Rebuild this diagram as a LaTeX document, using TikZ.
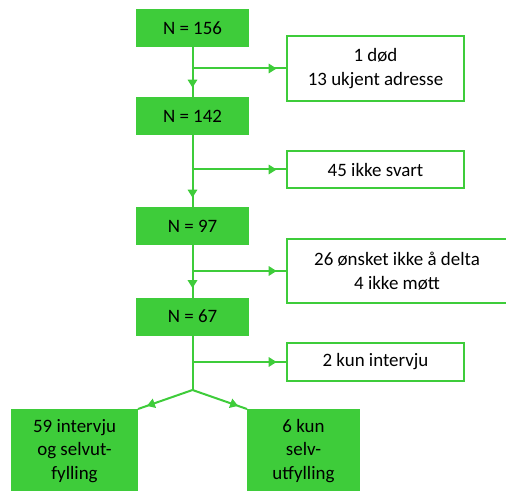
\documentclass[tikz,border=0pt]{standalone}
\usepackage{fontspec}
\setmainfont{Carlito}
\usetikzlibrary{arrows.meta,decorations.markings}

\definecolor{boxgreen}{RGB}{62,204,58}

\begin{document}
\begin{tikzpicture}[x=0.75pt,y=-0.75pt,
  font=\fontsize{14.2}{17.5}\selectfont,
  countbox/.style={fill=boxgreen,draw=boxgreen,line width=1.5pt,inner sep=0pt,
    minimum width=83.25pt,minimum height=27pt,align=center},
  lossbox/.style={fill=white,draw=boxgreen,line width=1.5pt,inner sep=0pt,
    minimum width=132.75pt,align=center},
  line/.style={draw=boxgreen,line width=1.5pt},
  flow/.style={line,postaction={decorate},decoration={markings,
    mark=at position -7pt with {\arrow[boxgreen]{Triangle[length=6pt,width=7pt]}}}}]
  \useasboundingbox (0,0) rectangle (506,491);

  % main column
  \node[countbox] (n156) at (192.5,28)  {N = 156};
  \node[countbox] (n142) at (192.5,116) {N = 142};
  \node[countbox] (n97)  at (192.5,226) {N = 97};
  \node[countbox] (n67)  at (192.5,316.5) {N = 67};

  % excluded at each step
  \node[lossbox,minimum height=48.75pt] (dod)    at (375.5,68.5) {1 død\\13 ukjent adresse};
  \node[lossbox,minimum height=27.75pt] (svart)  at (375.5,169.5) {45 ikke svart};
  \node[lossbox,minimum height=48pt,minimum width=165pt] (onsket) at (397,271) {26 ønsket ikke å delta\\4 ikke møtt};
  \node[lossbox,minimum height=28.5pt] (intervju) at (375.5,362) {2 kun intervju};

  % final groups
  \node[countbox,minimum width=93.75pt,minimum height=61.5pt] (i59) at (74.5,451) {59 intervju\\og selvut-\\fylling};
  \node[countbox,minimum height=61.5pt] (s6) at (303.5,451) {6 kun\\selv-\\utfylling};

  % connectors
  \draw[flow] (n156) -- (n142);
  \draw[flow] (n142) -- (n97);
  \draw[flow] (n97) -- (n67);
  \draw[flow] (n156.south |- dod.west) -- (dod.west);
  \draw[flow] (n142.south |- svart.west) -- (svart.west);
  \draw[flow] (n97.south |- onsket.west) -- (onsket.west);
  \draw[flow] (n67.south |- intervju.west) -- (intervju.west);

  \coordinate (split) at (192.5,390);
  \draw[line] (n67) -- (split);
  \draw[flow] (split) -- (i59.north east);
  \draw[flow] (split) -- (s6.north west);
\end{tikzpicture}
\end{document}
